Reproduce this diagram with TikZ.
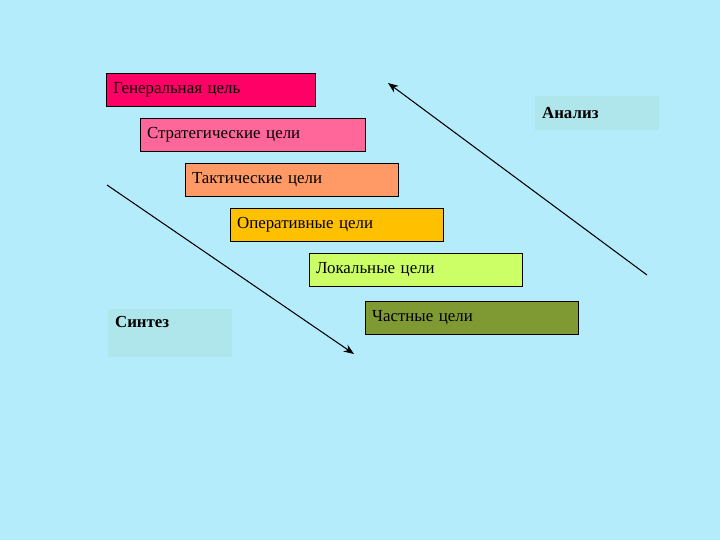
\documentclass[tikz,border=0pt]{standalone}
\usepackage{fontspec}
\setmainfont{Liberation Serif}
\usepackage{tikz}
\usetikzlibrary{positioning,arrows.meta}

\definecolor{sky}{RGB}{180,236,251}
\definecolor{labelbg}{RGB}{174,230,236}
\definecolor{c1}{RGB}{255,0,102}
\definecolor{c2}{RGB}{255,102,153}
\definecolor{c3}{RGB}{255,153,102}
\definecolor{c4}{RGB}{255,192,0}
\definecolor{c5}{RGB}{204,255,102}
\definecolor{c6}{RGB}{127,153,51}

\tikzset{
  goal/.style={draw, anchor=north west, fill=#1, minimum height=0.82cm,
    text width=4.99cm, align=left, inner xsep=0.17cm,
    font=\fontsize{12}{14}\selectfont},
  tag/.style={anchor=north west, fill=labelbg, minimum height=#1,
    text width=2.75cm, align=left, inner xsep=0.17cm,
    font=\fontsize{12}{14}\selectfont\bfseries}
}

\begin{document}
\begin{tikzpicture}[x=0.025cm, y=-0.025cm]
\fill[sky] (0,0) rectangle (720,540);
\useasboundingbox (0,0) rectangle (720,540);
\node[goal=c1, text width=4.885cm] (G) at (106, 73) {Генеральная цель};
\node[goal=c2, text width=5.285cm] (S) at (140, 118) {Стратегические цели};
\node[goal=c3] (T) at (185, 163) {Тактические цели};
\node[goal=c4] (O) at (230, 208) {Оперативные цели};
\node[goal=c5] (L) at (309, 253) {Локальные цели};
\node[goal=c6] (P) at (365, 301) {Частные цели};
\node[tag=0.85cm] (An) at (535, 96) {Анализ};
\node[tag=1.2cm, text depth=0.55cm] (Sy) at (108, 309) {Синтез};
\coordinate (s1) at (107, 185);
\coordinate (e1) at (354, 354);
\coordinate (s2) at (647, 275);
\coordinate (e2) at (388, 83);
\path[-{Stealth[length=2.6mm, width=2mm]}, line width=0.75pt] (s1) edge (e1);
\path[-{Stealth[length=2.6mm, width=2mm]}, line width=0.75pt] (s2) edge (e2);
\end{tikzpicture}
\end{document}
